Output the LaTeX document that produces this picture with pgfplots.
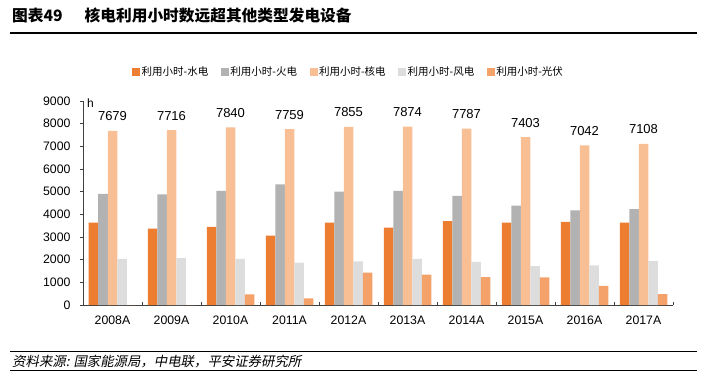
\documentclass[border=0pt]{standalone}
\usepackage{pgfplots}
\pgfplotsset{compat=1.18}
\usepackage{fontspec}
\setmainfont{Liberation Sans}
\newfontfamily\cjk{Noto Sans CJK SC}
\newfontfamily\cjkit{Noto Sans CJK SC}[FakeSlant=0.2]
\definecolor{hydro}{HTML}{ED7D31}
\definecolor{thermal}{HTML}{B2B2B2}
\definecolor{nuclear}{HTML}{F8BF95}
\definecolor{wind}{HTML}{DDDDDD}
\definecolor{solar}{HTML}{F4A26A}
\definecolor{axisgray}{HTML}{404040}
\begin{document}
\begin{tikzpicture}[x=1pt,y=1pt]
\path[use as bounding box] (0,0) rectangle (707,373);
\node[anchor=west,inner sep=0pt,font=\cjk\bfseries\fontsize{15.7}{17}\selectfont] at (12,358) {图表49\hspace{22pt}核电利用小时数远超其他类型发电设备};
\draw[line width=1.5pt] (10,340) -- (697,340);
\draw[line width=0.8pt] (10,21.3) -- (697,21.3);
\draw[line width=0.8pt] (10,2.3) -- (697,2.3);
\node[anchor=west,inner sep=0pt,font=\cjkit\fontsize{13.4}{15}\selectfont] at (12,11.8) {资料来源: 国家能源局，中电联，平安证券研究所};
\begin{axis}[
  at={(83pt,68pt)}, anchor=south west,
  scale only axis, width=590pt, height=204pt,
  clip=false,
  ybar=0pt, bar width=9.5pt,
  xmin=-0.5, xmax=9.5, ymin=0, ymax=9000,
  ytick={0,1000,...,9000},
  xtick={-0.5,0.5,...,9.5},
  x tick label as interval,
  xticklabels={2008A,2009A,2010A,2011A,2012A,2013A,2014A,2015A,2016A,2017A},
  axis x line*=bottom, axis y line*=left,
  axis line style={axisgray, line width=0.8pt},
  tick style={axisgray, line width=0.8pt},
  major tick length=3pt,
  tick align=inside,
  ytick style={xshift=-3pt},
  /pgf/number format/1000 sep={},
  /pgf/number format/assume math mode=true,
  tick label style={font=\fontsize{12.3}{14}\selectfont},
  yticklabel style={xshift=-9pt},
  xticklabel style={yshift=-7pt},
  legend image code/.code={\fill[#1] (0pt,-4pt) rectangle (8pt,4pt);},
  legend columns=5,
  legend style={draw=none, fill=none, at={(0.078,1.142)}, anchor=west,
    font=\cjk\fontsize{10.5}{12}\selectfont,
    nodes={inner sep=1.5pt},
    /tikz/every even column/.append style={column sep=11pt}},
  legend cell align=left,
]
\addplot[fill=hydro, draw=none] coordinates {(0,3630) (1,3370) (2,3450) (3,3060) (4,3630) (5,3410) (6,3700) (7,3630) (8,3670) (9,3630)};
\addplot[fill=thermal, draw=none] coordinates {(0,4900) (1,4880) (2,5040) (3,5320) (4,5000) (5,5040) (6,4810) (7,4380) (8,4180) (9,4235)};
\addplot[fill=nuclear, draw=none, nodes near coords,
  every node near coord/.append style={anchor=center, yshift=14.5pt, font=\fontsize{13}{15}\selectfont, text=black}]
  coordinates {(0,7679) (1,7716) (2,7840) (3,7759) (4,7855) (5,7874) (6,7787) (7,7403) (8,7042) (9,7108)};
\addplot[fill=wind, draw=none] coordinates {(0,2030) (1,2070) (2,2030) (3,1870) (4,1930) (5,2030) (6,1900) (7,1720) (8,1750) (9,1940)};
\addplot[fill=solar, draw=none] coordinates {(0,0) (1,0) (2,470) (3,295) (4,1425) (5,1340) (6,1235) (7,1220) (8,840) (9,485)};
\legend{利用小时-水电,利用小时-火电,利用小时-核电,利用小时-风电,利用小时-光伏}
\node[anchor=west, inner sep=0pt, font=\fontsize{12}{14}\selectfont] at (axis cs:-0.5,8920) [xshift=4pt] {h};
\end{axis}
\end{tikzpicture}
\end{document}
